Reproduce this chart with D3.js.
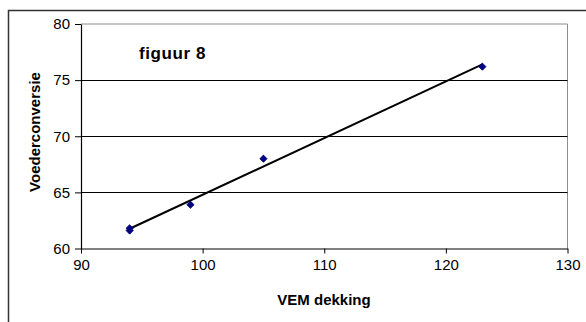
<!DOCTYPE html>
<html>
<head>
<meta charset="utf-8">
<script src="https://cdn.jsdelivr.net/npm/d3@7"></script>
<style>
  body { margin: 0; background: #fff; }
  svg { display: block; font-family: Arial, "Liberation Sans", sans-serif; }
</style>
</head>
<body>
<div id="canvas"></div>
<script>
"use strict";

// data
let vem = [94, 94, 99, 105, 123];
let voederconversie = [61.6, 61.8, 63.9, 68.0, 76.2];
let xTicks = [90, 100, 110, 120, 130];
let yTicks = [60, 65, 70, 75, 80];

let svgWidth = 586;
let svgHeight = 322;

let plot = { left: 81, top: 24, right: 567.5, bottom: 248.5 };

let svg = d3.select("#canvas")
  .append("svg")
  .attr("width", svgWidth)
  .attr("height", svgHeight);

// outer chart frame (runs off the right/bottom edge)
svg.append("rect")
  .attr("x", 8.5)
  .attr("y", 10.5)
  .attr("width", 600)
  .attr("height", 330)
  .attr("fill", "#fff")
  .attr("stroke", "#333")
  .attr("stroke-width", 1.5);

let xScale = d3.scaleLinear()
  .domain([90, 130])
  .range([plot.left, plot.right]);

let yScale = d3.scaleLinear()
  .domain([60, 80])
  .range([plot.bottom, plot.top]);

// plot area border: grey top / right
svg.append("path")
  .attr("d", "M" + plot.left + "," + plot.top + "H" + plot.right + "V" + plot.bottom)
  .attr("fill", "none")
  .attr("stroke", "#8c8c8c")
  .attr("stroke-width", 1);

// horizontal gridlines
svg.append("g")
  .selectAll("line")
  .data(yTicks.filter(function(d){ return d > 60 && d < 80; }))
  .enter()
  .append("line")
  .attr("x1", plot.left)
  .attr("x2", plot.right)
  .attr("y1", function(d){ return Math.round(yScale(d)) + 0.5; })
  .attr("y2", function(d){ return Math.round(yScale(d)) + 0.5; })
  .attr("stroke", "#000")
  .attr("stroke-width", 1);

// axes
let xAxis = svg.append("g")
  .attr("transform", "translate(0," + plot.bottom + ")")
  .call(d3.axisBottom(xScale).tickValues(xTicks).tickSizeInner(5).tickSizeOuter(0).tickPadding(6));

let yAxis = svg.append("g")
  .attr("transform", "translate(" + plot.left + ",0)")
  .call(d3.axisLeft(yScale).tickValues(yTicks).tickSizeInner(6).tickSizeOuter(0).tickPadding(5));

[xAxis, yAxis].forEach(function(ax){
  ax.select(".domain").attr("stroke", "#000").attr("stroke-width", 1.2);
  ax.selectAll(".tick line").attr("stroke", "#000");
  ax.selectAll(".tick text")
    .attr("fill", "#000")
    .style("font-size", "15px")
    .style("font-family", "Arial, 'Liberation Sans', sans-serif");
});

// linear trendline (least squares over the points)
let n = vem.length;
let mx = d3.mean(vem);
let my = d3.mean(voederconversie);
let sxy = d3.sum(vem, function(x, i){ return (x - mx) * (voederconversie[i] - my); });
let sxx = d3.sum(vem, function(x){ return (x - mx) * (x - mx); });
let slope = sxy / sxx;
let intercept = my - slope * mx;
let xExt = d3.extent(vem);

svg.append("line")
  .attr("x1", xScale(xExt[0]))
  .attr("y1", yScale(intercept + slope * xExt[0]))
  .attr("x2", xScale(xExt[1]))
  .attr("y2", yScale(intercept + slope * xExt[1]))
  .attr("stroke", "#000")
  .attr("stroke-width", 2);

// diamond markers
let diamond = d3.symbol().type(d3.symbolSquare).size(26);
svg.append("g")
  .selectAll("path")
  .data(vem)
  .enter()
  .append("path")
  .attr("d", diamond)
  .attr("transform", function(d, i){
    return "translate(" + xScale(d) + "," + yScale(voederconversie[i]) + ") rotate(45)";
  })
  .attr("fill", "#000080")
  .attr("stroke", "#000080")
  .attr("stroke-width", 0.8);

// titles
svg.append("text")
  .attr("x", 139)
  .attr("y", 59)
  .style("font-size", "17px")
  .style("font-weight", "bold")
  .style("letter-spacing", "0.6px")
  .text("figuur 8");

svg.append("text")
  .attr("x", 324)
  .attr("y", 305)
  .attr("text-anchor", "middle")
  .style("font-size", "15px")
  .style("font-weight", "bold")
  .text("VEM dekking");

svg.append("text")
  .attr("transform", "translate(40,132) rotate(-90)")
  .attr("text-anchor", "middle")
  .style("font-size", "15px")
  .style("font-weight", "bold")
  .text("Voederconversie");
</script>
</body>
</html>
